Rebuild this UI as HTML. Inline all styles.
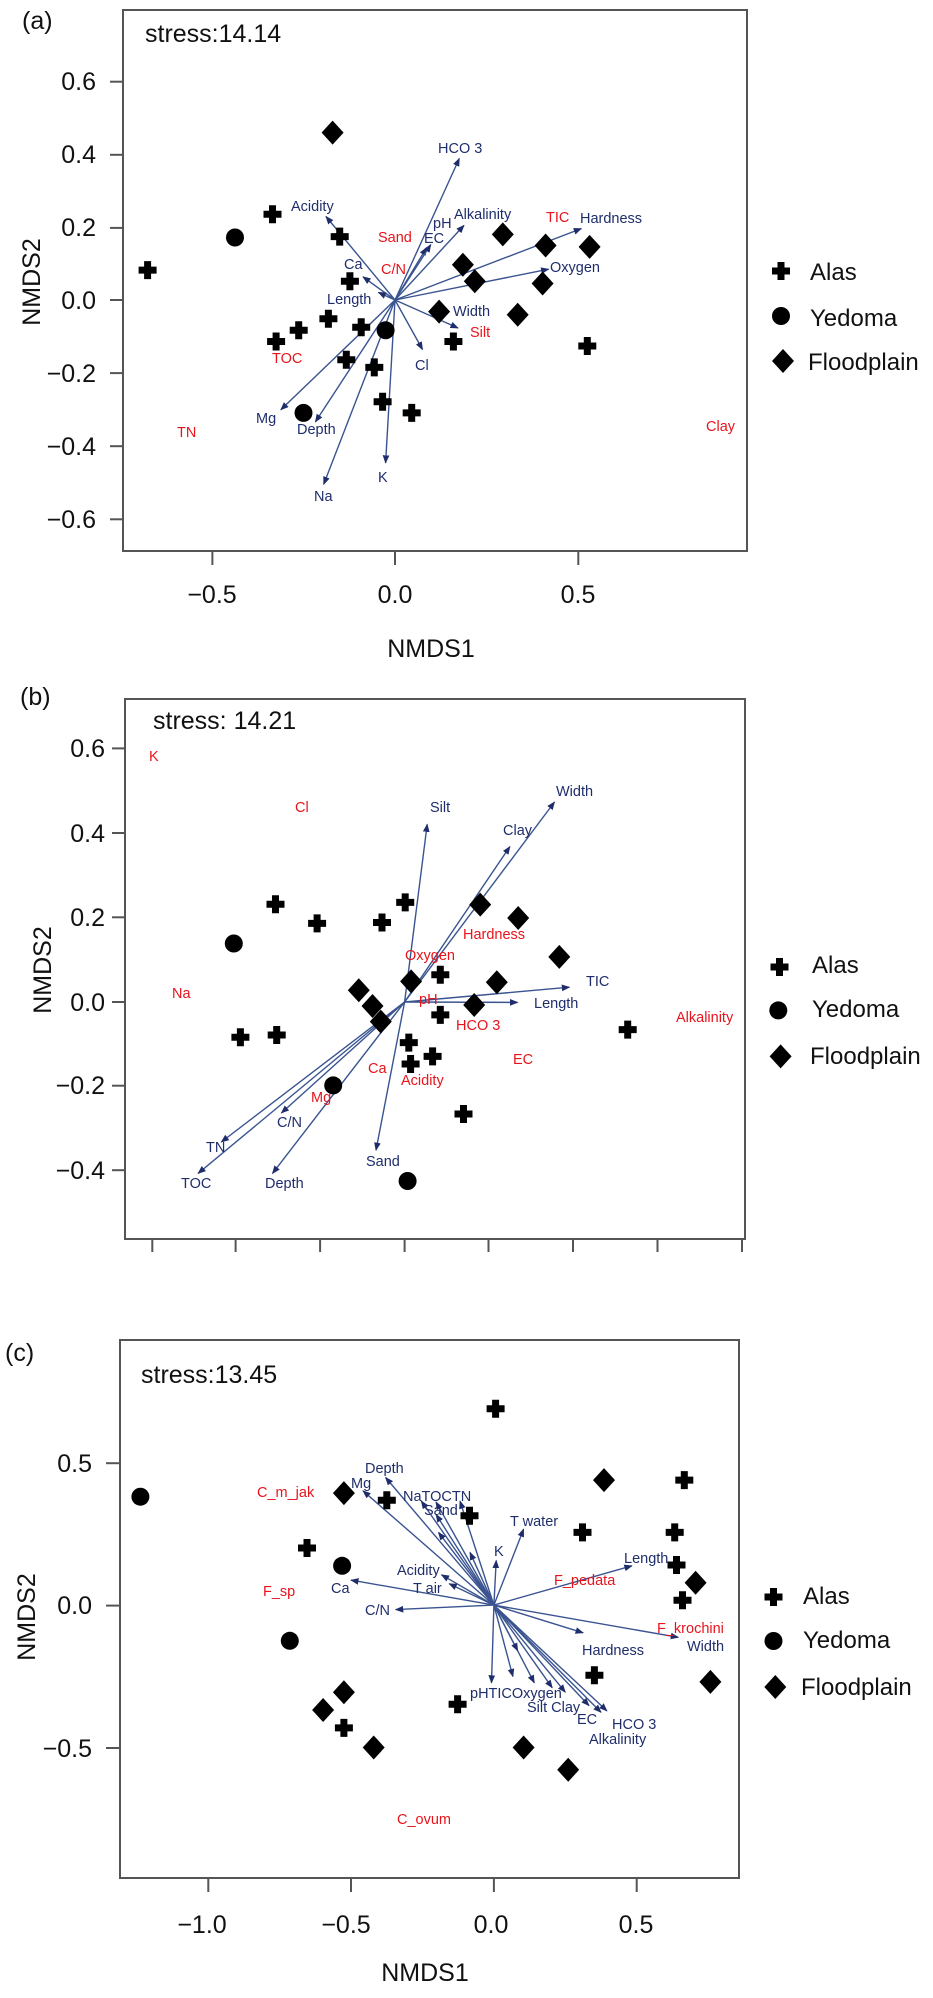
<!DOCTYPE html>
<html><head><meta charset="utf-8"><style>
html,body{margin:0;padding:0;background:#fff}
svg{display:block}
text{font-family:"Liberation Sans",Arial,sans-serif}
.ax{font-size:25px;fill:#111}
.lb{font-size:14.5px;fill:#1f2d6b}
.rd{font-size:14.5px;fill:#e8141c}
.lg{font-size:24px;fill:#111}
.ar{stroke:#3a5490;stroke-width:1.4;fill:none;marker-end:url(#ah)}
.bx{fill:none;stroke:#555;stroke-width:2}
.tk{stroke:#555;stroke-width:2}
</style></head><body>
<svg width="933" height="1998" viewBox="0 0 933 1998" xmlns="http://www.w3.org/2000/svg">
<defs>
<marker id="ah" viewBox="0 0 10 10" refX="9" refY="5" markerWidth="6" markerHeight="6" orient="auto"><path d="M0,1 L10,5 L0,9z" fill="#1f2d6b"/></marker>
<path id="cr" d="M-3.5,-9H3.5V-3.5H9V3.5H3.5V9H-3.5V3.5H-9V-3.5H-3.5Z" fill="#000"/>
<path id="dm" d="M0,-12L11,0L0,12L-11,0Z" fill="#000"/>
<circle id="ci" r="9" fill="#000"/>
</defs>

<!-- ============ PANEL A ============ -->
<text class="ax" x="22" y="29">(a)</text>
<rect class="bx" x="123" y="10" width="624" height="541"/>
<text class="ax" x="145" y="42" font-size="24">stress:14.14</text>
<g class="tk">
<line x1="110" y1="81.7" x2="123" y2="81.7"/><line x1="110" y1="154.8" x2="123" y2="154.8"/><line x1="110" y1="227.9" x2="123" y2="227.9"/><line x1="110" y1="300" x2="123" y2="300"/><line x1="110" y1="373.1" x2="123" y2="373.1"/><line x1="110" y1="446.2" x2="123" y2="446.2"/><line x1="110" y1="519.3" x2="123" y2="519.3"/>
<line x1="212.4" y1="551" x2="212.4" y2="565"/><line x1="395" y1="551" x2="395" y2="565"/><line x1="578.3" y1="551" x2="578.3" y2="565"/>
</g>
<g class="ax" text-anchor="end">
<text x="96" y="90">0.6</text><text x="96" y="163">0.4</text><text x="96" y="236">0.2</text><text x="96" y="309">0.0</text><text x="96" y="382">−0.2</text><text x="96" y="455">−0.4</text><text x="96" y="528">−0.6</text>
</g>
<g class="ax" text-anchor="middle">
<text x="212" y="603">−0.5</text><text x="395" y="603">0.0</text><text x="578" y="603">0.5</text>
<text x="431" y="657">NMDS1</text>
<text transform="translate(40,282) rotate(-90)">NMDS2</text>
</g>
<g>
<line class="ar" x1="395" y1="300" x2="459.3" y2="158.5"/>
<line class="ar" x1="395" y1="300" x2="326" y2="216.5"/>
<line class="ar" x1="395" y1="300" x2="426.6" y2="247.7"/>
<line class="ar" x1="395" y1="300" x2="430.8" y2="244.6"/>
<line class="ar" x1="395" y1="300" x2="464" y2="225.4"/>
<line class="ar" x1="395" y1="300" x2="581.3" y2="228.6"/>
<line class="ar" x1="395" y1="300" x2="548.6" y2="269.2"/>
<line class="ar" x1="395" y1="300" x2="363" y2="276.8"/>
<line class="ar" x1="395" y1="300" x2="378.4" y2="292.4"/>
<line class="ar" x1="395" y1="300" x2="458" y2="328"/>
<line class="ar" x1="395" y1="300" x2="422.5" y2="349.5"/>
<line class="ar" x1="395" y1="300" x2="385.6" y2="462.9"/>
<line class="ar" x1="395" y1="300" x2="323.7" y2="484.3"/>
<line class="ar" x1="395" y1="300" x2="315.4" y2="421.9"/>
<line class="ar" x1="395" y1="300" x2="280.8" y2="409.8"/>
</g>
<g>
<use href="#cr" x="147.6" y="270.1"/><use href="#cr" x="272.5" y="214.3"/><use href="#cr" x="339.7" y="236.6"/><use href="#cr" x="349.9" y="281.2"/><use href="#cr" x="328.4" y="318.7"/><use href="#cr" x="298.7" y="330.3"/><use href="#cr" x="276.1" y="341.5"/><use href="#cr" x="361.2" y="327.2"/><use href="#cr" x="346.3" y="359.8"/><use href="#cr" x="374.3" y="367.4"/><use href="#cr" x="382.6" y="401.8"/><use href="#cr" x="411.7" y="412.9"/><use href="#cr" x="453.4" y="341.5"/><use href="#cr" x="587.3" y="346"/>
<use href="#ci" x="235" y="237.5"/><use href="#ci" x="385.6" y="330.3"/><use href="#ci" x="303.5" y="412.9"/>
<use href="#dm" x="332.6" y="132.6"/><use href="#dm" x="502.8" y="234.4"/><use href="#dm" x="545.6" y="245.5"/><use href="#dm" x="589.6" y="246.9"/><use href="#dm" x="462.9" y="264.7"/><use href="#dm" x="474.8" y="281.2"/><use href="#dm" x="542.6" y="283.5"/><use href="#dm" x="439.1" y="311.6"/><use href="#dm" x="517.7" y="314.7"/>
</g>
<g class="lb">
<text x="438" y="153">HCO 3</text><text x="291" y="211">Acidity</text><text x="424" y="243">EC</text><text x="433" y="228">pH</text><text x="454" y="219">Alkalinity</text><text x="580" y="223">Hardness</text><text x="550" y="272">Oxygen</text><text x="344" y="269">Ca</text><text x="327" y="304">Length</text><text x="453" y="316">Width</text><text x="415" y="370">Cl</text><text x="378" y="482">K</text><text x="314" y="501">Na</text><text x="297" y="434">Depth</text><text x="256" y="423">Mg</text>
</g>
<g class="rd">
<text x="378" y="242">Sand</text><text x="381" y="274">C/N</text><text x="546" y="222">TIC</text><text x="470" y="337">Silt</text><text x="272" y="363">TOC</text><text x="177" y="437">TN</text><text x="706" y="431">Clay</text>
</g>
<use href="#cr" x="781" y="271"/><use href="#ci" x="781" y="316"/><use href="#dm" x="783" y="361"/>
<g class="lg"><text x="810" y="280">Alas</text><text x="810" y="326">Yedoma</text><text x="808" y="370">Floodplain</text></g>

<!-- ============ PANEL B ============ -->
<text class="ax" x="20" y="705">(b)</text>
<rect class="bx" x="125" y="699" width="620" height="540"/>
<text class="ax" x="153" y="729" font-size="24">stress: 14.21</text>
<g class="tk">
<line x1="112" y1="748.4" x2="125" y2="748.4"/><line x1="112" y1="833" x2="125" y2="833"/><line x1="112" y1="917.3" x2="125" y2="917.3"/><line x1="112" y1="1002" x2="125" y2="1002"/><line x1="112" y1="1085.7" x2="125" y2="1085.7"/><line x1="112" y1="1170.2" x2="125" y2="1170.2"/>
<line x1="152.3" y1="1239" x2="152.3" y2="1252"/><line x1="235.6" y1="1239" x2="235.6" y2="1252"/><line x1="320.1" y1="1239" x2="320.1" y2="1252"/><line x1="404.6" y1="1239" x2="404.6" y2="1252"/><line x1="488.5" y1="1239" x2="488.5" y2="1252"/><line x1="573" y1="1239" x2="573" y2="1252"/><line x1="657.5" y1="1239" x2="657.5" y2="1252"/><line x1="742" y1="1239" x2="742" y2="1252"/>
</g>
<g class="ax" text-anchor="end">
<text x="105" y="757">0.6</text><text x="105" y="842">0.4</text><text x="105" y="926">0.2</text><text x="105" y="1011">0.0</text><text x="105" y="1094">−0.2</text><text x="105" y="1179">−0.4</text>
</g>
<text class="ax" text-anchor="middle" transform="translate(51,970) rotate(-90)">NMDS2</text>
<g>
<line class="ar" x1="404.6" y1="1002" x2="427.2" y2="824.3"/>
<line class="ar" x1="404.6" y1="1002" x2="509.9" y2="846.6"/>
<line class="ar" x1="404.6" y1="1002" x2="554.5" y2="802"/>
<line class="ar" x1="404.6" y1="1002" x2="569.4" y2="987.2"/>
<line class="ar" x1="404.6" y1="1002" x2="517.6" y2="1002.4"/>
<line class="ar" x1="404.6" y1="1002" x2="376" y2="1150.2"/>
<line class="ar" x1="404.6" y1="1002" x2="272.5" y2="1173.4"/>
<line class="ar" x1="404.6" y1="1002" x2="281.4" y2="1113"/>
<line class="ar" x1="404.6" y1="1002" x2="221.3" y2="1142"/>
<line class="ar" x1="404.6" y1="1002" x2="198.1" y2="1173.4"/>
</g>
<g>
<use href="#cr" x="275.5" y="904.2"/><use href="#cr" x="317.1" y="923.4"/><use href="#cr" x="382" y="922.5"/><use href="#cr" x="405.2" y="902.4"/><use href="#cr" x="440.3" y="974.7"/><use href="#cr" x="440.3" y="1014.9"/><use href="#cr" x="240.4" y="1037.2"/><use href="#cr" x="276.7" y="1035"/><use href="#cr" x="408.8" y="1042.6"/><use href="#cr" x="432.6" y="1056.4"/><use href="#cr" x="410.6" y="1064"/><use href="#cr" x="463.5" y="1114"/><use href="#cr" x="627.7" y="1029.6"/>
<use href="#ci" x="233.8" y="943.5"/><use href="#ci" x="333.2" y="1085.4"/><use href="#ci" x="407.6" y="1181"/>
<use href="#dm" x="480.2" y="904.6"/><use href="#dm" x="518.2" y="918"/><use href="#dm" x="559.3" y="956.9"/><use href="#dm" x="496.8" y="982.3"/><use href="#dm" x="411.1" y="981.4"/><use href="#dm" x="358.8" y="990.3"/><use href="#dm" x="372.5" y="1006"/><use href="#dm" x="380.8" y="1021.6"/><use href="#dm" x="474.2" y="1005"/>
</g>
<g class="lb">
<text x="430" y="812">Silt</text><text x="503" y="835">Clay</text><text x="556" y="796">Width</text><text x="586" y="986">TIC</text><text x="534" y="1008">Length</text><text x="366" y="1166">Sand</text><text x="265" y="1188">Depth</text><text x="277" y="1127">C/N</text><text x="206" y="1152">TN</text><text x="181" y="1188">TOC</text>
</g>
<g class="rd">
<text x="149" y="761">K</text><text x="295" y="812">Cl</text><text x="172" y="998">Na</text><text x="463" y="939">Hardness</text><text x="405" y="960">Oxygen</text><text x="419" y="1004">pH</text><text x="456" y="1030">HCO 3</text><text x="513" y="1064">EC</text><text x="368" y="1073">Ca</text><text x="401" y="1085">Acidity</text><text x="311" y="1102">Mg</text><text x="676" y="1022">Alkalinity</text>
</g>
<use href="#cr" x="779.5" y="967"/><use href="#ci" x="778.3" y="1010.4"/><use href="#dm" x="780.6" y="1056.4"/>
<g class="lg"><text x="812" y="973">Alas</text><text x="812" y="1017">Yedoma</text><text x="810" y="1064">Floodplain</text></g>

<!-- ============ PANEL C ============ -->
<text class="ax" x="5" y="1361">(c)</text>
<rect class="bx" x="120" y="1340" width="619" height="538"/>
<text class="ax" x="141" y="1383" font-size="24">stress:13.45</text>
<g class="tk">
<line x1="106" y1="1463.2" x2="120" y2="1463.2"/><line x1="106" y1="1605.6" x2="120" y2="1605.6"/><line x1="106" y1="1748" x2="120" y2="1748"/>
<line x1="208.3" y1="1878" x2="208.3" y2="1892"/><line x1="351" y1="1878" x2="351" y2="1892"/><line x1="493.9" y1="1878" x2="493.9" y2="1892"/><line x1="636.7" y1="1878" x2="636.7" y2="1892"/>
</g>
<g class="ax" text-anchor="end">
<text x="92" y="1472">0.5</text><text x="92" y="1614">0.0</text><text x="92" y="1757">−0.5</text>
</g>
<g class="ax" text-anchor="middle">
<text x="202" y="1933">−1.0</text><text x="346" y="1933">−0.5</text><text x="491" y="1933">0.0</text><text x="636" y="1933">0.5</text>
<text x="425" y="1981">NMDS1</text>
<text transform="translate(35,1617) rotate(-90)">NMDS2</text>
</g>
<g>
<line class="ar" x1="493.9" y1="1605.1" x2="385.6" y2="1477.5"/>
<line class="ar" x1="493.9" y1="1605.1" x2="363" y2="1490.8"/>
<line class="ar" x1="493.9" y1="1605.1" x2="421.3" y2="1501.1"/>
<line class="ar" x1="493.9" y1="1605.1" x2="436" y2="1502"/>
<line class="ar" x1="493.9" y1="1605.1" x2="460" y2="1501.1"/>
<line class="ar" x1="493.9" y1="1605.1" x2="436.1" y2="1514.5"/>
<line class="ar" x1="493.9" y1="1605.1" x2="438.5" y2="1532.4"/>
<line class="ar" x1="493.9" y1="1605.1" x2="470" y2="1552.4"/>
<line class="ar" x1="493.9" y1="1605.1" x2="523.6" y2="1529.2"/>
<line class="ar" x1="493.9" y1="1605.1" x2="496.2" y2="1560.5"/>
<line class="ar" x1="493.9" y1="1605.1" x2="441.5" y2="1574.8"/>
<line class="ar" x1="493.9" y1="1605.1" x2="449.2" y2="1583.7"/>
<line class="ar" x1="493.9" y1="1605.1" x2="351" y2="1580.1"/>
<line class="ar" x1="493.9" y1="1605.1" x2="395.7" y2="1609.6"/>
<line class="ar" x1="493.9" y1="1605.1" x2="631.9" y2="1565.8"/>
<line class="ar" x1="493.9" y1="1605.1" x2="678.3" y2="1637.3"/>
<line class="ar" x1="493.9" y1="1605.1" x2="583.1" y2="1632.8"/>
<line class="ar" x1="493.9" y1="1605.1" x2="491.5" y2="1682.8"/>
<line class="ar" x1="493.9" y1="1605.1" x2="512.9" y2="1676.5"/>
<line class="ar" x1="493.9" y1="1605.1" x2="534.3" y2="1682.8"/>
<line class="ar" x1="493.9" y1="1605.1" x2="552.2" y2="1687.7"/>
<line class="ar" x1="493.9" y1="1605.1" x2="565.3" y2="1692.2"/>
<line class="ar" x1="493.9" y1="1605.1" x2="589" y2="1705.6"/>
<line class="ar" x1="493.9" y1="1605.1" x2="606.9" y2="1710.9"/>
<line class="ar" x1="493.9" y1="1605.1" x2="601" y2="1712.3"/>
<line class="ar" x1="493.9" y1="1605.1" x2="517.7" y2="1650.7"/>
</g>
<g>
<use href="#cr" x="495.6" y="1408.7"/><use href="#cr" x="386.8" y="1500.2"/><use href="#cr" x="469.5" y="1515.8"/><use href="#cr" x="307" y="1548"/><use href="#cr" x="582.5" y="1532.4"/><use href="#cr" x="684.3" y="1480.1"/><use href="#cr" x="674.7" y="1532.4"/><use href="#cr" x="676.5" y="1565"/><use href="#cr" x="682.5" y="1600.2"/><use href="#cr" x="594.4" y="1675.2"/><use href="#cr" x="457.6" y="1704.2"/><use href="#cr" x="343.9" y="1727.9"/>
<use href="#ci" x="140.4" y="1496.7"/><use href="#ci" x="342.1" y="1565.8"/><use href="#ci" x="289.8" y="1640.8"/>
<use href="#dm" x="343.9" y="1493.1"/><use href="#dm" x="604" y="1480.1"/><use href="#dm" x="695.6" y="1582.8"/><use href="#dm" x="710.4" y="1681.9"/><use href="#dm" x="343.9" y="1692.2"/><use href="#dm" x="323.1" y="1710"/><use href="#dm" x="373.7" y="1747.5"/><use href="#dm" x="523.6" y="1747.5"/><use href="#dm" x="568.2" y="1769.8"/>
</g>
<g class="lb" font-size="14">
<text x="365" y="1473">Depth</text><text x="351" y="1488">Mg</text><text x="403" y="1501">NaTOCTN</text><text x="424" y="1515">Sand</text><text x="510" y="1526">T water</text><text x="494" y="1556">K</text><text x="397" y="1575">Acidity</text><text x="413" y="1593">T air</text><text x="331" y="1593">Ca</text><text x="365" y="1615">C/N</text><text x="624" y="1563">Length</text><text x="687" y="1651">Width</text><text x="582" y="1655">Hardness</text><text x="470" y="1698">pHTICOxygen</text><text x="527" y="1712">Silt Clay</text><text x="577" y="1724">EC</text><text x="612" y="1729">HCO 3</text><text x="589" y="1744">Alkalinity</text>
</g>
<g class="rd" font-size="13.5">
<text x="257" y="1497">C_m_jak</text><text x="263" y="1596">F_sp</text><text x="554" y="1585">F_pedata</text><text x="657" y="1633">F_krochini</text><text x="397" y="1824">C_ovum</text>
</g>
<use href="#cr" x="773.5" y="1597"/><use href="#ci" x="773.5" y="1641"/><use href="#dm" x="775.3" y="1687"/>
<g class="lg"><text x="803" y="1604">Alas</text><text x="803" y="1648">Yedoma</text><text x="801" y="1695">Floodplain</text></g>
</svg>
</body></html>
